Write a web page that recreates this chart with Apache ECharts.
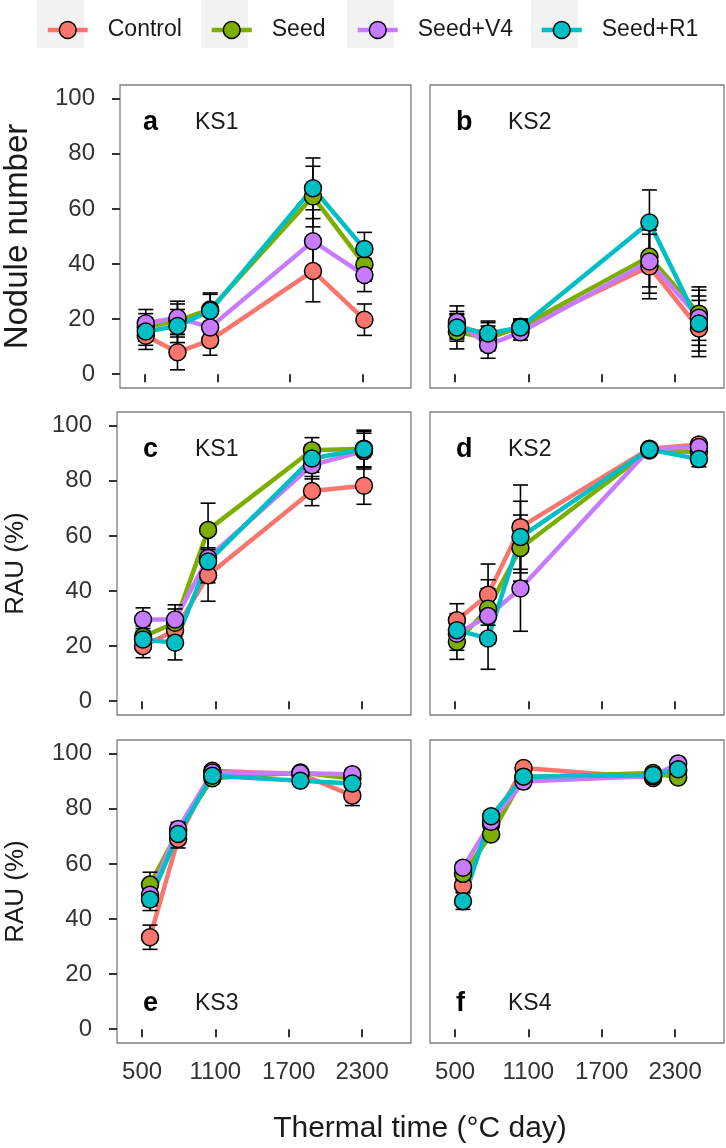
<!DOCTYPE html>
<html>
<head>
<meta charset="utf-8">
<script src="https://cdn.jsdelivr.net/npm/echarts@6/dist/echarts.min.js"></script>
<style>
html,body{margin:0;padding:0;background:#ffffff;}
#chart{width:726px;height:1148px;}
</style>
</head>
<body>
<div id="chart"></div>
<script>
// ---------------- DATA ----------------
const treatments = ['Control', 'Seed', 'Seed+V4', 'Seed+R1'];
const xTickValues = [500, 1100, 1700, 2300];
const yTickValues = [0, 20, 40, 60, 80, 100];
const panelLetters = ['a', 'b', 'c', 'd', 'e', 'f'];
const panelSites = ['KS1', 'KS2', 'KS1', 'KS2', 'KS3', 'KS4'];
const rowTitles = ['Nodule number', 'RAU (%)', 'RAU (%)'];
const xTitle = 'Thermal time (°C day)';

// thermal time (°C day) of each sampling, per site
const thermalKS1 = [508, 770, 1040, 1890, 2315];
const thermalKS2 = [515, 770, 1035, 2090, 2495];
const thermalKS3 = [565, 795, 1075, 1795, 2220];
const thermalKS4 = [565, 795, 1060, 2120, 2325];

// rows: Control, Seed, Seed+V4, Seed+R1
// a: nodule number, KS1
const meanA = [
  [14, 8, 12.3, 37.5, 19.8],
  [17, 19.5, 23.5, 64.5, 39.8],
  [18.5, 20.5, 17, 48.3, 36],
  [15.5, 17.5, 23, 67.5, 45.5]
];
const errA = [
  [5, 6.4, 5.4, 11.2, 5.7],
  [5, 6, 6, 11, 6],
  [5, 6, 5.5, 11.4, 6],
  [5, 6, 6, 11, 6]
];
// b: nodule number, KS2
const meanB = [
  [17.8, 14.2, 16.6, 39.1, 16.6],
  [15.4, 13, 17.2, 42.7, 22],
  [19, 10.6, 15.2, 40.9, 20.5],
  [17, 14.8, 17, 55.1, 18.4]
];
const errB = [
  [5, 4.5, 3, 11.7, 10.2],
  [6.2, 4.5, 2.8, 11, 9.7],
  [5.8, 4.8, 2.8, 11.5, 10],
  [5, 4.5, 3, 11.8, 10]
];
// c: RAU, KS1
const meanC = [
  [20, 25.8, 45.7, 76.3, 78.2],
  [23.4, 28.5, 62.2, 91.1, 91.7],
  [29.7, 29.7, 52, 85.7, 90.8],
  [22.4, 21.2, 50.7, 88.1, 91.5]
];
const errC = [
  [4.2, 5, 9.4, 5.3, 6.7],
  [4, 5, 9.7, 4.6, 6.7],
  [4.2, 5.3, 9, 5, 6.5],
  [4, 6.2, 5, 5, 6.5]
];
// d: RAU, KS2
const meanD = [
  [29.4, 38.7, 63.2, 91.7, 93.2],
  [21.6, 33.6, 55.6, 91, 90.5],
  [24.5, 30.9, 40.9, 91.5, 92.3],
  [25.8, 22.8, 59.6, 91.4, 87.9]
];
const errD = [
  [6, 11.1, 15.3, 1.5, 1.8],
  [6.4, 10.5, 12, 1.5, 2],
  [6, 10, 15.5, 1.5, 2],
  [6, 11.2, 13, 1.5, 2.8]
];
// e: RAU, KS3
const meanE = [
  [33.4, 69.1, 93.8, 92.6, 84.8],
  [52.5, 71.9, 91.1, 93.2, 91],
  [48.8, 72.7, 93.2, 92.9, 92.6],
  [47.1, 70.9, 92, 90.2, 89.2]
];
const errE = [
  [4.4, 3.3, 1, 1, 3.6],
  [4.5, 2.5, 1, 1, 1.5],
  [4, 2.4, 1, 1, 1.5],
  [4, 2.5, 1, 1, 1.5]
];
// f: RAU, KS4
const meanF = [
  [52.2, 74.3, 94.8, 91.2, 93.8],
  [56.4, 70.7, 91.5, 93, 91.4],
  [58.6, 75.3, 89.9, 91.9, 96.5],
  [46.5, 77.3, 91.7, 92.3, 94.4]
];
const errF = [
  [2, 1.5, 1, 1, 1],
  [2, 1.5, 1, 1, 1],
  [2, 1.5, 1, 1, 1],
  [3, 2, 1, 1, 1]
];

const panelX = [thermalKS1, thermalKS2, thermalKS1, thermalKS2, thermalKS3, thermalKS4];
const panelMean = [meanA, meanB, meanC, meanD, meanE, meanF];
const panelErr = [errA, errB, errC, errD, errE, errF];

// ---------------- STYLE / LAYOUT ----------------
const colors = ['#F8766D', '#7CAE00', '#C77CFF', '#00BFC4'];
const FONT = '"Liberation Sans", Arial, Helvetica, sans-serif';
const colLeft = [117, 430];
const rowTop = [85, 412, 740];
const gridW = 294, gridH = 303;
const X_MIN = 295, X_MAX = 2700;
const Y_MIN = -5, Y_MAX = 105;

const grids = [], xAxes = [], yAxes = [];
const lineSeries = [], errSeries = [], pointSeries = [];
const graphics = [];

function renderErr(params, api) {
  const x = api.value(0), lo = api.value(1), hi = api.value(2);
  const p1 = api.coord([x, lo]);
  const p2 = api.coord([x, hi]);
  const w = 7.5;
  const st = { stroke: '#000', lineWidth: 1.6 };
  return {
    type: 'group',
    children: [
      { type: 'line', shape: { x1: p1[0], y1: p1[1], x2: p2[0], y2: p2[1] }, style: st },
      { type: 'line', shape: { x1: p1[0] - w, y1: p1[1], x2: p1[0] + w, y2: p1[1] }, style: st },
      { type: 'line', shape: { x1: p2[0] - w, y1: p2[1], x2: p2[0] + w, y2: p2[1] }, style: st }
    ]
  };
}
const plainNum = function (v) { return String(Math.round(v)); };

for (let p = 0; p < 6; p++) {
  const col = p % 2, row = Math.floor(p / 2);
  grids.push({
    left: colLeft[col], top: rowTop[row], width: gridW, height: gridH,
    show: true, borderColor: '#7f7f7f', borderWidth: 1.3, backgroundColor: '#ffffff'
  });
  xAxes.push({
    type: 'value', gridIndex: p, min: X_MIN, max: X_MAX,
    axisLine: { show: false },
    splitLine: { show: false },
    axisTick: { show: true, customValues: xTickValues, length: 8, lineStyle: { color: '#333333', width: 2 } },
    axisLabel: {
      show: row === 2, customValues: xTickValues, margin: 17, formatter: plainNum,
      fontSize: 24, color: '#333333', fontFamily: FONT
    }
  });
  yAxes.push({
    type: 'value', gridIndex: p, min: Y_MIN, max: Y_MAX,
    axisLine: { show: false },
    splitLine: { show: false },
    axisTick: { show: col === 0, customValues: yTickValues, length: 8, lineStyle: { color: '#333333', width: 2 } },
    axisLabel: {
      show: col === 0, customValues: yTickValues, margin: 25, formatter: plainNum,
      fontSize: 24, color: '#333333', fontFamily: FONT
    },
    name: col === 0 ? rowTitles[row] : '',
    nameLocation: 'middle',
    nameGap: row === 0 ? 86 : 88,
    nameTextStyle: { fontSize: row === 0 ? 33 : 26, color: '#1a1a1a', fontFamily: FONT }
  });

  const xs = panelX[p];
  for (let t = 0; t < 4; t++) {
    const m = panelMean[p][t], e = panelErr[p][t];
    lineSeries.push({
      type: 'line', name: treatments[t], xAxisIndex: p, yAxisIndex: p,
      data: xs.map((x, i) => [x, m[i]]),
      showSymbol: false, symbol: 'circle', symbolSize: 17,
      itemStyle: { color: colors[t], borderColor: '#000', borderWidth: 1.5 },
      lineStyle: { color: colors[t], width: 4.5 },
      z: 2, silent: true
    });
    errSeries.push({
      type: 'custom', name: treatments[t], xAxisIndex: p, yAxisIndex: p,
      data: xs.map((x, i) => [x, m[i] - e[i], m[i] + e[i]]),
      encode: { x: 0, y: [1, 2] },
      renderItem: renderErr,
      z: 3, silent: true
    });
    pointSeries.push({
      type: 'scatter', name: treatments[t], xAxisIndex: p, yAxisIndex: p,
      data: xs.map((x, i) => [x, m[i]]),
      symbol: 'circle', symbolSize: 17,
      itemStyle: { color: colors[t], borderColor: '#000', borderWidth: 1.5, opacity: 1 },
      z: 4, silent: true
    });
  }

  // panel letter and site label
  const labelY = row === 2 ? rowTop[row] + gridH - 39 : rowTop[row] + 38;
  graphics.push({
    type: 'text', x: colLeft[col] + 26, y: labelY,
    style: { text: panelLetters[p], font: 'bold 27px ' + FONT, fill: '#000', verticalAlign: 'middle', align: 'left' }
  });
  graphics.push({
    type: 'text', x: colLeft[col] + 78, y: labelY,
    style: { text: panelSites[p], font: '23px ' + FONT, fill: '#1a1a1a', verticalAlign: 'middle', align: 'left' }
  });
}

// legend key backgrounds
const keyLeft = [37, 201, 347, 531];
const keyW = 47;
keyLeft.forEach(function (x) {
  graphics.push({ type: 'rect', shape: { x: x, y: 0, width: keyW, height: 48 }, style: { fill: '#f2f2f2' }, z: -1 });
});
// x axis title
graphics.push({
  type: 'text', x: 420, y: 1129,
  style: { text: xTitle, font: '30px ' + FONT, fill: '#1a1a1a', align: 'center', verticalAlign: 'middle' }
});

const legends = treatments.map(function (t, i) {
  return {
    data: [{ name: t, itemStyle: { color: colors[i], borderColor: '#000', borderWidth: 1.5 }, lineStyle: { color: colors[i], width: 4.5 } }],
    left: keyLeft[i] + keyW / 2 - 20, top: 13.5,
    itemWidth: 40, itemHeight: 21,
    selectedMode: false,
    textStyle: { fontSize: 23, color: '#1a1a1a', fontFamily: FONT, padding: [0, 0, 0, 15] }
  };
});

const chart = echarts.init(document.getElementById('chart'), null, { renderer: 'canvas' });
chart.setOption({
  animation: false,
  backgroundColor: '#ffffff',
  legend: legends,
  grid: grids,
  xAxis: xAxes,
  yAxis: yAxes,
  graphic: { elements: graphics },
  series: lineSeries.concat(errSeries, pointSeries)
});
</script>
</body>
</html>
